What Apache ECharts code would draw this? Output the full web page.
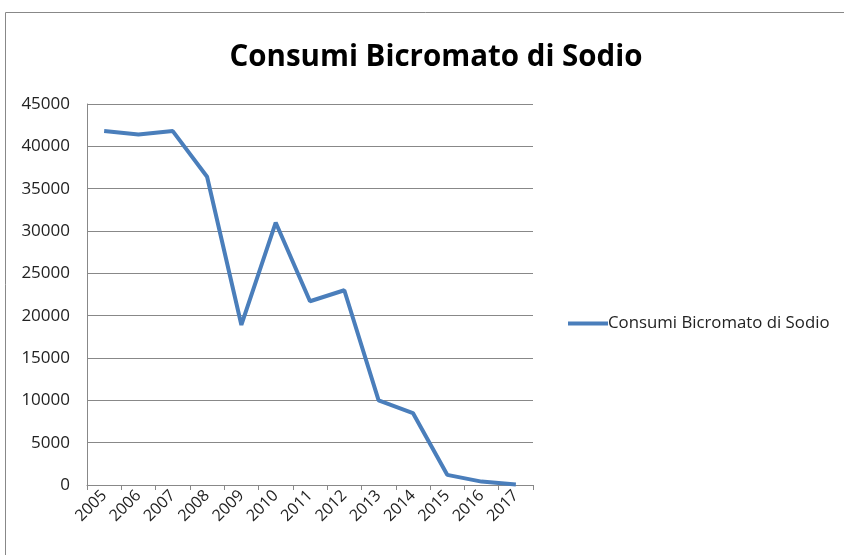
<!DOCTYPE html>
<html lang="it">
<head>
  <meta charset="UTF-8">
  <title>Consumi Bicromato di Sodio</title>
  <script src="https://cdn.jsdelivr.net/npm/echarts@6/dist/echarts.min.js"></script>
  <style>
    html, body { margin: 0; padding: 0; background: #fff; }
    #chart { width: 844px; height: 555px; }
  </style>
</head>
<body>
  <div id="chart"></div>
<script>
  // dati
  var anni = ['2005', '2006', '2007', '2008', '2009', '2010', '2011', '2012', '2013', '2014', '2015', '2016', '2017'];
  var consumi = [41800, 41400, 41800, 36400, 18900, 31000, 21700, 23000, 10000, 8500, 1200, 400, 50];
  var nomeSerie = 'Consumi Bicromato di Sodio';

  var font = "'Open Sans', 'Noto Sans', sans-serif";
  var chart = echarts.init(document.getElementById('chart'));

  chart.setOption({
    animation: false,
    title: {
      text: nomeSerie,
      left: 431,
      textAlign: 'center',
      top: 38,
      textStyle: { fontFamily: font, fontSize: 29.5, fontWeight: 'bold', color: '#000' }
    },
    // cornice dell'area grafico
    graphic: [{
      type: 'rect',
      shape: { x: 5.5, y: 12.5, width: 900, height: 600 },
      style: { fill: 'none', stroke: '#888', lineWidth: 1 },
      silent: true
    }],
    legend: {
      data: [nomeSerie],
      left: 563,
      top: 310,
      itemWidth: 40,
      itemHeight: 4,
      itemGap: 4,
      icon: 'rect',
      textStyle: { fontFamily: font, fontSize: 16.8, color: '#222', padding: [0, 0, 0, -5] }
    },
    grid: { left: 87, right: 311, top: 104, bottom: 70, containLabel: false },
    xAxis: {
      type: 'category',
      data: anni,
      boundaryGap: true,
      axisLine: { lineStyle: { color: '#888', width: 1 } },
      axisTick: { show: true, length: 5, lineStyle: { color: '#888' } },
      axisLabel: { rotate: 45, fontFamily: font, fontSize: 16, color: '#222', margin: 8, interval: 0 }
    },
    yAxis: {
      type: 'value',
      min: 0,
      max: 45000,
      interval: 5000,
      axisLine: { show: true, lineStyle: { color: '#888', width: 1 } },
      axisTick: { show: false },
      splitLine: { lineStyle: { color: '#888', width: 1 } },
      axisLabel: {
        fontFamily: font, fontSize: 17, color: '#222', margin: 17,
        formatter: function (v) { return String(v); }
      }
    },
    series: [{
      name: nomeSerie,
      type: 'line',
      data: consumi,
      symbol: 'none',
      lineStyle: { color: '#4a7ebb', width: 4 },
      itemStyle: { color: '#4a7ebb' }
    }]
  });
</script>
</body>
</html>
